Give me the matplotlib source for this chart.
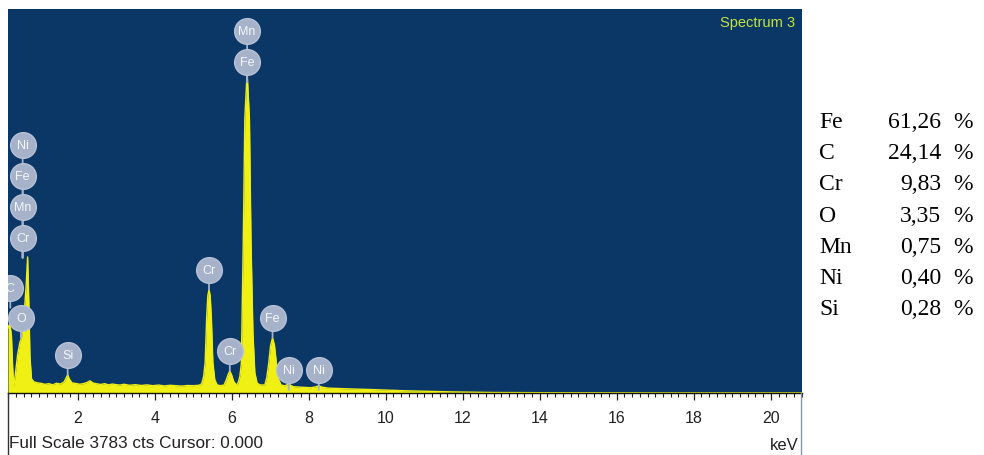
import numpy as np
import matplotlib
matplotlib.use("Agg")
import matplotlib.pyplot as plt
from matplotlib.transforms import offset_copy

plt.rcParams['font.family'] = ['Liberation Sans', 'DejaVu Sans']

# EDS spectrum (energy in keV, counts)
kev = [0.19, 0.22, 0.25, 0.28, 0.31, 0.34, 0.38, 0.44, 0.50, 0.54, 0.60, 0.66, 0.70, 0.73, 0.76, 0.80,
       0.86, 0.95, 1.05, 1.15, 1.25, 1.35, 1.45, 1.55, 1.65, 1.70, 1.74, 1.78, 1.85, 1.95, 2.05,
       2.15, 2.25, 2.32, 2.40, 2.50, 2.60, 2.70, 2.80, 2.90, 3.00, 3.10, 3.20, 3.35, 3.50, 3.65,
       3.80, 3.95, 4.10, 4.25, 4.40, 4.55, 4.70, 4.85, 5.00, 5.15, 5.22, 5.27, 5.31, 5.35, 5.38,
       5.41, 5.44, 5.47, 5.51, 5.56, 5.62, 5.70, 5.80, 5.85, 5.90, 5.95, 6.00, 6.05, 6.12, 6.16,
       6.21, 6.25, 6.30, 6.34, 6.40, 6.46, 6.50, 6.55, 6.60, 6.66, 6.75, 6.86, 6.91, 6.96, 7.01,
       7.06, 7.11, 7.16, 7.21, 7.28, 7.38, 7.43, 7.48, 7.53, 7.60, 7.75, 7.90, 8.05, 8.18, 8.26,
       8.34, 8.50, 8.70, 8.90, 9.10, 9.30, 9.50, 9.70, 9.90, 10.2, 10.5, 10.8, 11.1, 11.4, 11.7,
       12.0, 12.4, 12.8, 13.3, 14.0, 15.0, 16.0, 17.0, 18.0, 19.0, 20.0, 20.81]
counts = [640, 670, 650, 560, 260, 70, 180, 380, 500, 540, 720, 1050, 1340, 900, 360, 140,
          110, 100, 95, 85, 92, 80, 96, 88, 110, 150, 180, 140, 100, 94, 86,
          92, 105, 120, 98, 90, 84, 92, 80, 88, 82, 78, 86, 76, 82, 74,
          80, 72, 78, 70, 76, 72, 68, 74, 72, 76, 90, 160, 300, 750, 960,
          1017, 960, 750, 300, 130, 80, 72, 78, 120, 175, 217, 175, 115, 78, 95,
          160, 290, 1500, 2700, 3160, 2700, 1500, 600, 200, 95, 78, 80, 150, 290, 470,
          543, 470, 290, 140, 80, 70, 80, 95, 75, 62, 58, 55, 52, 60, 72,
          58, 48, 45, 42, 40, 38, 35, 33, 30, 26, 22, 19, 16, 13, 11,
          9, 7, 5, 4, 3, 2, 2, 1, 1, 1, 1, 1]

# peak identification labels (element, line energy, count level where the marker stem ends)
label_names = ['C', 'O', 'Cr', 'Mn', 'Fe', 'Ni', 'Si', 'Cr', 'Cr', 'Fe', 'Mn', 'Fe', 'Ni', 'Ni']
label_kev = [0.25, 0.525, 0.57, 0.57, 0.57, 0.57, 1.74, 5.41, 5.95, 6.40, 6.40, 7.06, 7.48, 8.26]
label_counts = [840, 543, 1333, 1333, 1333, 1333, 178, 1017, 217, 3062, 3062, 543, 30, 30]

# quantification table
elements = ['Fe', 'C', 'Cr', 'O', 'Mn', 'Ni', 'Si']
weight_pct = ['61,26', '24,14', '9,83', '3,35', '0,75', '0,40', '0,28']

full_scale = 3783

W, H = 984, 456
fig = plt.figure(figsize=(W / 100, H / 100), dpi=100)
fig.patch.set_facecolor('white')

ax = fig.add_axes([8 / W, 1 - 394 / H, (802 - 8) / W, (394 - 10) / H])
ax.set_facecolor('#0b3767')
ax.fill_between(kev, counts, 0, color='#f0f014', lw=0)
ax.plot(kev, counts, color='#f0f014', lw=1.0)
ax.set_xlim(0.19, 20.81)
ax.set_ylim(0, full_scale)

for s in ['top', 'left', 'right']:
    ax.spines[s].set_visible(False)
ax.spines['bottom'].set_color('#111111')
ax.spines['bottom'].set_linewidth(1.0)
ax.set_yticks([])
ax.set_xticks(np.arange(2, 21, 2))
ax.set_xticks(np.arange(0.2, 20.81, 0.2), minor=True)
ax.tick_params(axis='x', which='major', direction='out', length=5, width=0.9,
               color='#222222', labelsize=11.5, labelcolor='#222222', pad=7)
ax.tick_params(axis='x', which='minor', direction='out', length=3, width=0.8, color='#222222')

# peak markers: stacked bubbles joined to the peak by a stem
circle_color = '#a6b2c9'
stem_px, step_px = 20, 31
seen = {}
for name, k, c in zip(label_names, label_kev, label_counts):
    level = seen.get((k, c), 0)
    seen[(k, c)] = level + 1
    off = (stem_px + level * step_px) * 0.72
    ax.annotate('', xy=(k, c), xytext=(0, off), textcoords='offset points',
                arrowprops=dict(arrowstyle='-', color=circle_color, lw=1.3,
                                shrinkA=0, shrinkB=0))
    tr = offset_copy(ax.transData, fig=fig, x=0, y=off, units='points')
    ax.plot([k], [c], marker='o', ms=18.5, color=circle_color, mec='#b8c2d6',
            mew=1.0, transform=tr, zorder=5)
    ax.annotate(name, xy=(k, c), xytext=(0, off), textcoords='offset points',
                ha='center', va='center', color='#f4f6fa', fontsize=9, zorder=6,
                annotation_clip=False, clip_on=True)

ax.text(795 / W, 1 - 23 / H, 'Spectrum 3', transform=fig.transFigure, ha='right',
        va='center', color='#c4e63a', fontsize=10.5)

# frame below the spectrum
fig.add_artist(plt.Line2D([8 / W, 8 / W], [0, 1 - 394 / H], color='#333333', lw=1.0))
fig.add_artist(plt.Line2D([801 / W, 801 / W], [0, 1 - 394 / H], color='#8899aa', lw=1.0))
fig.text(9 / W, 1 - 444 / H, 'Full Scale %d cts Cursor: 0.000' % full_scale,
         ha='left', va='center', fontsize=12.3, color='#222222')
fig.text(799 / W, 1 - 446 / H, 'keV', ha='right', va='center', fontsize=12, color='#222222')

# composition table on the right
for i, (el, pct) in enumerate(zip(elements, weight_pct)):
    yb = 1 - (128 + i * 31.2) / H
    fig.text(819 / W, yb, el, ha='left', va='baseline', fontsize=17,
             family='Liberation Serif', color='black')
    fig.text(941 / W, yb, pct, ha='right', va='baseline', fontsize=17,
             family='Liberation Serif', color='black')
    fig.text(953 / W, yb, '%', ha='left', va='baseline', fontsize=17,
             family='Liberation Serif', color='black')

fig.savefig('out.png', dpi=100)
